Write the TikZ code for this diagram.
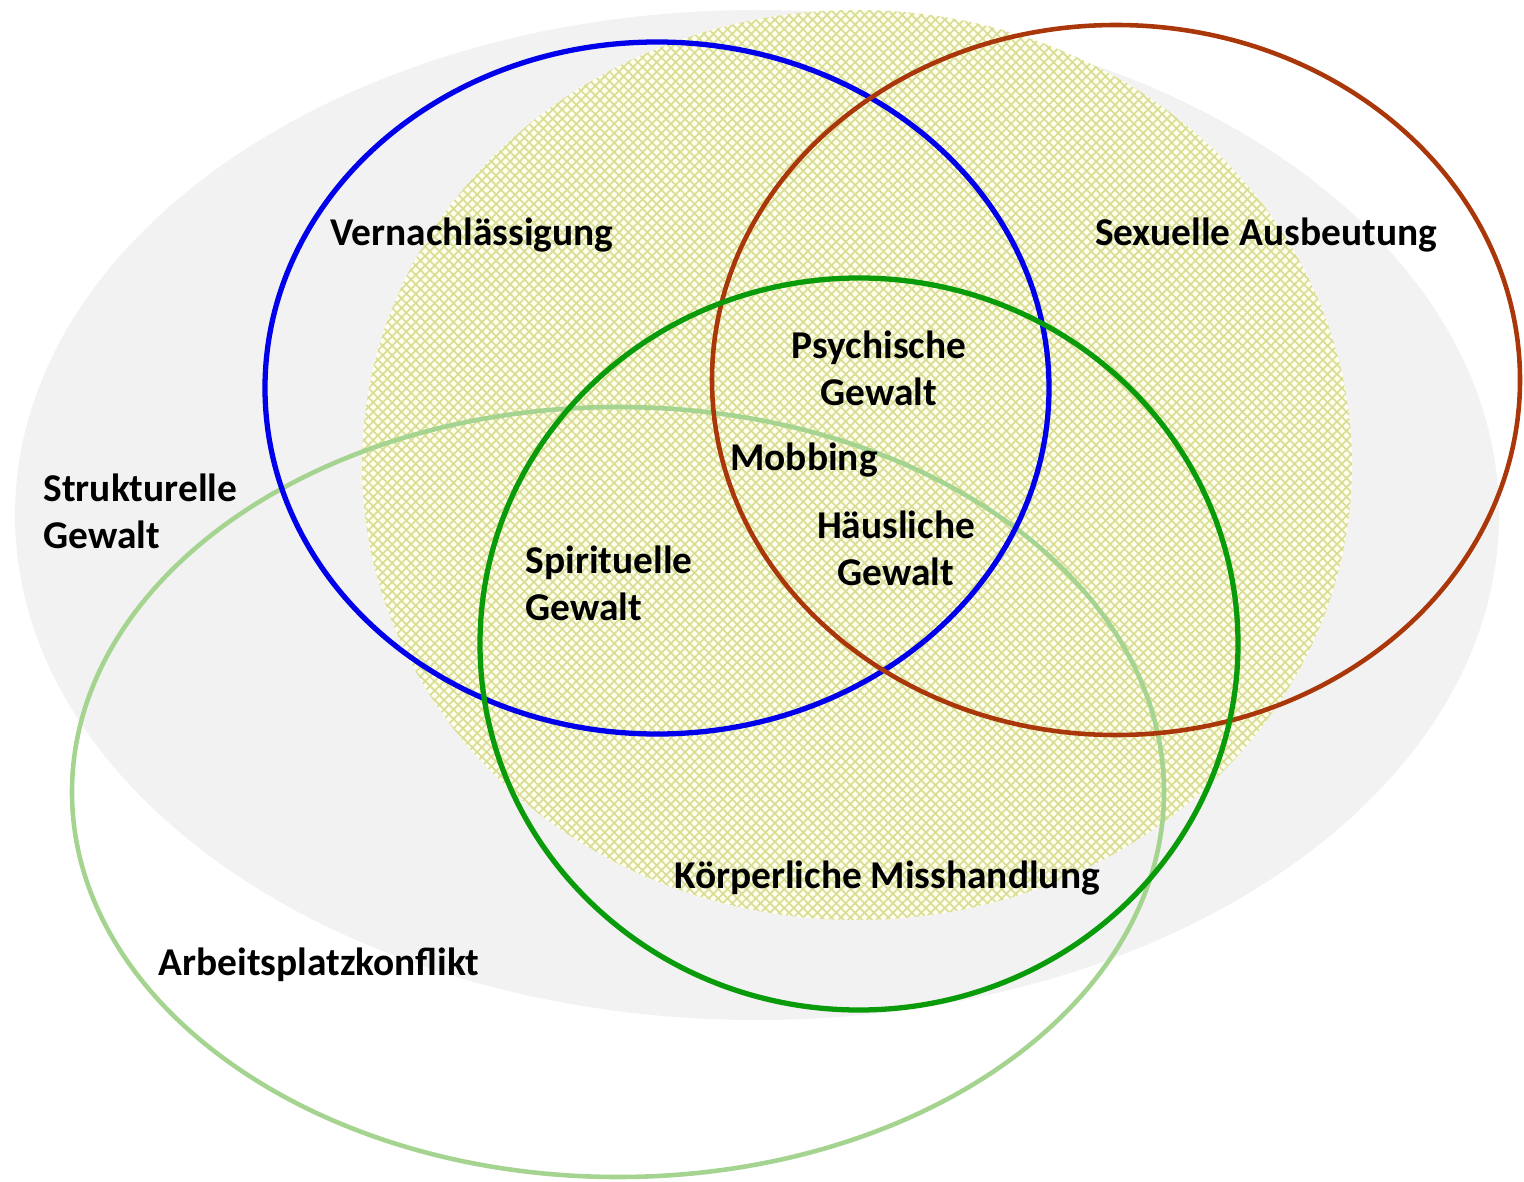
\documentclass[tikz,border=0pt]{standalone}
\usepackage{fontspec}
\setmainfont{Carlito}
\usetikzlibrary{patterns.meta}

\definecolor{gewaltgray}{RGB}{242,242,242}
\definecolor{hatchbg}{RGB}{255,255,238}
\definecolor{hatchline}{RGB}{218,221,150}
\definecolor{vernblue}{RGB}{0,0,235}
\definecolor{sexbrown}{RGB}{170,55,10}
\definecolor{koerpgreen}{RGB}{10,155,10}
\definecolor{arbgreen}{RGB}{165,212,145}

\tikzset{
  lbl/.style={font=\bfseries\fontsize{11.2}{13.4}\selectfont, inner sep=0pt},
  ring/.style={line width=1.5pt}
}

\begin{document}
\begin{tikzpicture}[x=0.01cm, y=-0.01cm]

\useasboundingbox (0,0) rectangle (1524,1182);

% outer field: strukturelle Gewalt
\fill[gewaltgray] (757,515) ellipse [x radius=742, y radius=505];

% hatched field
\fill[hatchbg] (857,465) ellipse [x radius=495, y radius=455];
\fill[pattern={Hatch[angle=45,distance=1.9pt,line width=0.5pt]}, pattern color=hatchline]
    (857,465) ellipse [x radius=495, y radius=455];

\draw[ring, arbgreen, line width=1.3pt] (618,792) ellipse [x radius=546, y radius=385];

\draw[ring, vernblue] (657,388) ellipse [x radius=392, y radius=346];

\draw[ring, sexbrown, line width=1.3pt] (1116,380) ellipse [x radius=404, y radius=355];

\draw[ring, koerpgreen] (859,644) ellipse [x radius=379, y radius=366];

\node[lbl] (vern) at (472,235) {Vernachlässigung};
\node[lbl] (sex) at (1266,235) {Sexuelle Ausbeutung};
\node[lbl, align=center] (psych) at (879,368) {Psychische\\Gewalt};
\node[lbl] (mobb) at (804,460) {Mobbing};
\node[lbl, align=center] (haus) at (896,548) {Häusliche\\Gewalt};
\node[lbl, align=left, anchor=west] (spir) at (525,583) {Spirituelle\\Gewalt};
\node[lbl, align=left, anchor=west] (strukt) at (43,511) {Strukturelle\\Gewalt};
\node[lbl] (koerp) at (887,878) {Körperliche Misshandlung};
\node[lbl] (arb) at (319,965) {Arbeitsplatzkonflikt};

\end{tikzpicture}
\end{document}
